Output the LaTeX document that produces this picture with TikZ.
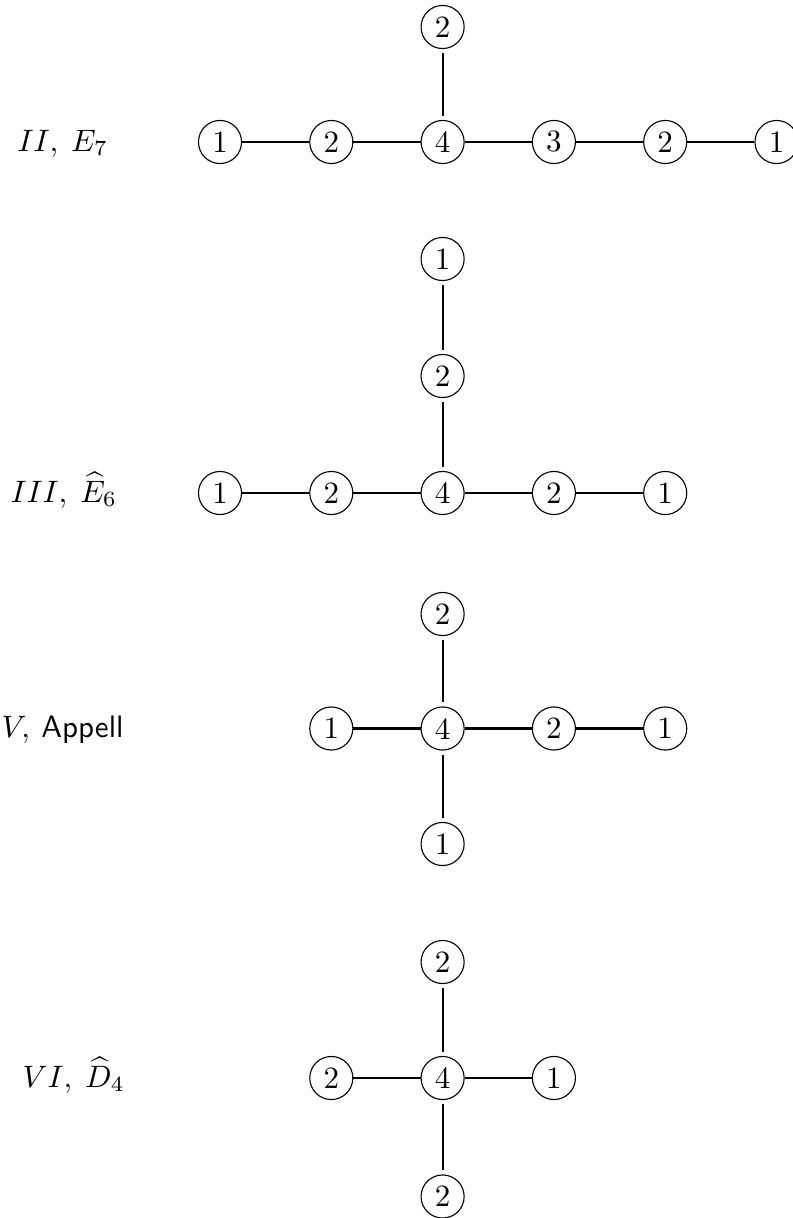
\documentclass[tikz,border=0pt]{standalone}
\begin{document}
\begin{tikzpicture}[x=0.3226pt,y=-0.3226pt,
  dn/.style={circle,draw,line width=0.36pt,inner sep=0pt,minimum size=13.9pt},
  hthick/.style={line width=0.85pt},
  hthin/.style={line width=0.6pt},
  vline/.style={line width=0.6pt,shorten <=1.3pt,shorten >=1.3pt},
  lab/.style={anchor=base west,inner sep=0pt},
  labr/.style={anchor=base east,inner sep=0pt}]
\useasboundingbox (0,0) rectangle (792,1218);
% Row II, E7
\node[lab] (l1) at (17,151) {$II,\hspace{0.25em}E_7$};
\node[dn] (a1) at (220,142) {1};
\node[dn] (a2) at (331.3,142) {2};
\node[dn] (a3) at (442.6,142) {4};
\node[dn] (a4) at (553.9,142) {3};
\node[dn] (a5) at (665.2,142) {2};
\node[dn] (a6) at (776.5,142) {1};
\node[dn] (a7) at (442.6,27) {2};
\draw[hthick] (a1) -- (a2);
\draw[hthick] (a2) -- (a3);
\draw[hthick] (a3) -- (a4);
\draw[hthick] (a4) -- (a5);
\draw[hthick] (a5) -- (a6);
\draw[vline] (a7) -- (a3);
% Row III, E6 hat
\node[lab] (l2) at (10,502) {$III,\hspace{0.25em}\widehat{E}_6$};
\node[dn] (b1) at (220,493) {1};
\node[dn] (b2) at (331.3,493) {2};
\node[dn] (b3) at (442.6,493) {4};
\node[dn] (b4) at (553.9,493) {2};
\node[dn] (b5) at (665.2,493) {1};
\node[dn] (b6) at (442.6,376) {2};
\node[dn] (b7) at (442.6,259) {1};
\draw[hthick] (b1) -- (b2);
\draw[hthick] (b2) -- (b3);
\draw[hthick] (b3) -- (b4);
\draw[hthick] (b4) -- (b5);
\draw[vline] (b7) -- (b6);
\draw[vline] (b6) -- (b3);
% Row IV, Appell
\node[lab] (l3) at (1,737.5) {$V,\hspace{0.2em}\textsf{Appell}$};
\node[dn] (c1) at (331.3,728.5) {1};
\node[dn] (c2) at (442.6,728.5) {4};
\node[dn] (c3) at (553.9,728.5) {2};
\node[dn] (c4) at (665.2,728.5) {1};
\node[dn] (c5) at (442.6,614) {2};
\node[dn] (c6) at (442.6,844) {1};
\draw[hthick] (c1) -- (c2);
\draw[hthick] (c2) -- (c3);
\draw[hthick] (c3) -- (c4);
\draw[vline] (c5) -- (c2);
\draw[vline] (c2) -- (c6);
% Row VI, D4 hat
\node[lab] (l4) at (22,1087) {$VI,\hspace{0.25em}\widehat{D}_4$};
\node[dn] (d1) at (331.3,1078) {2};
\node[dn] (d2) at (442.6,1078) {4};
\node[dn] (d3) at (553.9,1078) {1};
\node[dn] (d4) at (442.6,962) {2};
\node[dn] (d5) at (442.6,1196.5) {2};
\draw[hthin] (d1) -- (d2);
\draw[hthin] (d2) -- (d3);
\draw[vline] (d4) -- (d2);
\draw[vline] (d2) -- (d5);
\end{tikzpicture}
\end{document}
